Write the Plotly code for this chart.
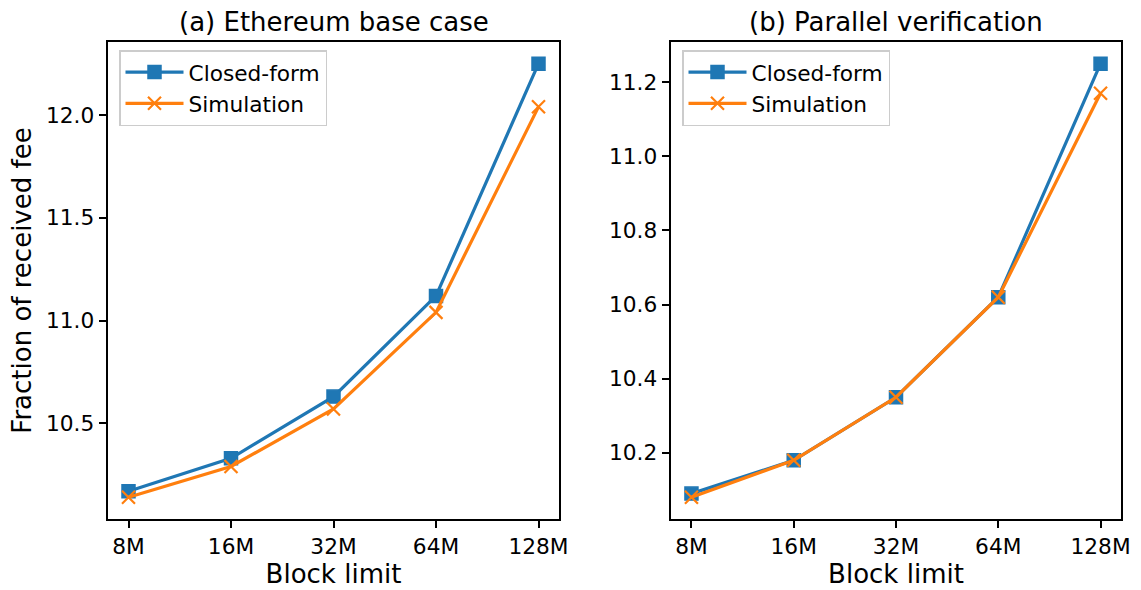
import plotly.graph_objects as go

# Block limits on the x axis
block_limits = ["8M", "16M", "32M", "64M", "128M"]

# (a) Ethereum base case
eth_closed_form = [10.17, 10.33, 10.63, 11.12, 12.25]
eth_simulation = [10.14, 10.29, 10.57, 11.04, 12.04]

# (b) Parallel verification
par_closed_form = [10.09, 10.18, 10.35, 10.62, 11.25]
par_simulation = [10.08, 10.18, 10.35, 10.62, 11.17]

BLUE = "#1f77b4"
ORANGE = "#ff7f0e"
FONT = "DejaVu Sans"
TICK_SIZE = 21.7
LABEL_SIZE = 26

W, H = 1141, 590


def px_x(p):
    return p / W


def px_y(p):
    return (H - p) / H


fig = go.Figure()


def add_pair(closed, sim, xaxis, yaxis, legend):
    fig.add_trace(go.Scatter(
        x=block_limits, y=closed, name="Closed-form", mode="lines+markers",
        xaxis=xaxis, yaxis=yaxis, legend=legend,
        line=dict(color=BLUE, width=3.2),
        marker=dict(symbol="square", size=13, color=BLUE,
                    line=dict(color=BLUE, width=1.5)),
    ))
    fig.add_trace(go.Scatter(
        x=block_limits, y=sim, name="Simulation", mode="lines+markers",
        xaxis=xaxis, yaxis=yaxis, legend=legend,
        line=dict(color=ORANGE, width=3.2),
        marker=dict(symbol="x-thin", size=13, color=ORANGE,
                    line=dict(color=ORANGE, width=2.2)),
    ))


add_pair(eth_closed_form, eth_simulation, "x", "y", "legend")
add_pair(par_closed_form, par_simulation, "x2", "y2", "legend2")


def pad_range(a, b):
    lo = min(min(a), min(b))
    hi = max(max(a), max(b))
    m = 0.05 * (hi - lo)
    return [lo - m, hi + m]


axis_common = dict(
    showline=True, linewidth=1.7, linecolor="black", mirror=True,
    ticks="outside", ticklen=7.5, tickwidth=1.7, tickcolor="black",
    showgrid=False, zeroline=False, automargin=False,
    tickfont=dict(family=FONT, size=TICK_SIZE, color="black"),
)

y_dom = [px_y(519), px_y(42)]

legend_common = dict(
    xanchor="left", yanchor="top",
    bgcolor="rgba(255,255,255,0.8)", bordercolor="#cccccc", borderwidth=1.5,
    font=dict(family=FONT, size=TICK_SIZE, color="black"),
    itemwidth=58,
)

fig.update_layout(
    width=W, height=H,
    margin=dict(l=0, r=0, t=0, b=0, autoexpand=False),
    paper_bgcolor="white", plot_bgcolor="white",
    font=dict(family=FONT, color="black"),
    xaxis=dict(domain=[px_x(108), px_x(559)], type="category",
               range=[-0.2, 4.2], anchor="y",
               title=dict(text="Block limit", font=dict(size=LABEL_SIZE), standoff=6),
               **axis_common),
    yaxis=dict(domain=y_dom, anchor="x", range=pad_range(eth_closed_form, eth_simulation),
               tick0=10.5, dtick=0.5, tickformat=".1f",
               title=dict(text="Fraction of received fee", font=dict(size=LABEL_SIZE), standoff=7),
               **axis_common),
    xaxis2=dict(domain=[px_x(671), px_x(1121)], type="category",
                range=[-0.2, 4.2], anchor="y2",
                title=dict(text="Block limit", font=dict(size=LABEL_SIZE), standoff=6),
                **axis_common),
    yaxis2=dict(domain=y_dom, anchor="x2", range=pad_range(par_closed_form, par_simulation),
                tick0=10.2, dtick=0.2, tickformat=".1f",
                **axis_common),
    legend=dict(x=px_x(119), y=px_y(50), **legend_common),
    legend2=dict(x=px_x(682), y=px_y(50), **legend_common),
    annotations=[
        dict(text="(a) Ethereum base case", x=(px_x(108) + px_x(559)) / 2, y=px_y(22),
             xref="paper", yref="paper", showarrow=False, xanchor="center", yanchor="middle",
             font=dict(family=FONT, size=LABEL_SIZE, color="black")),
        dict(text="(b) Parallel verification", x=(px_x(671) + px_x(1121)) / 2, y=px_y(22),
             xref="paper", yref="paper", showarrow=False, xanchor="center", yanchor="middle",
             font=dict(family=FONT, size=LABEL_SIZE, color="black")),
    ],
)

fig.write_html("out.html")
